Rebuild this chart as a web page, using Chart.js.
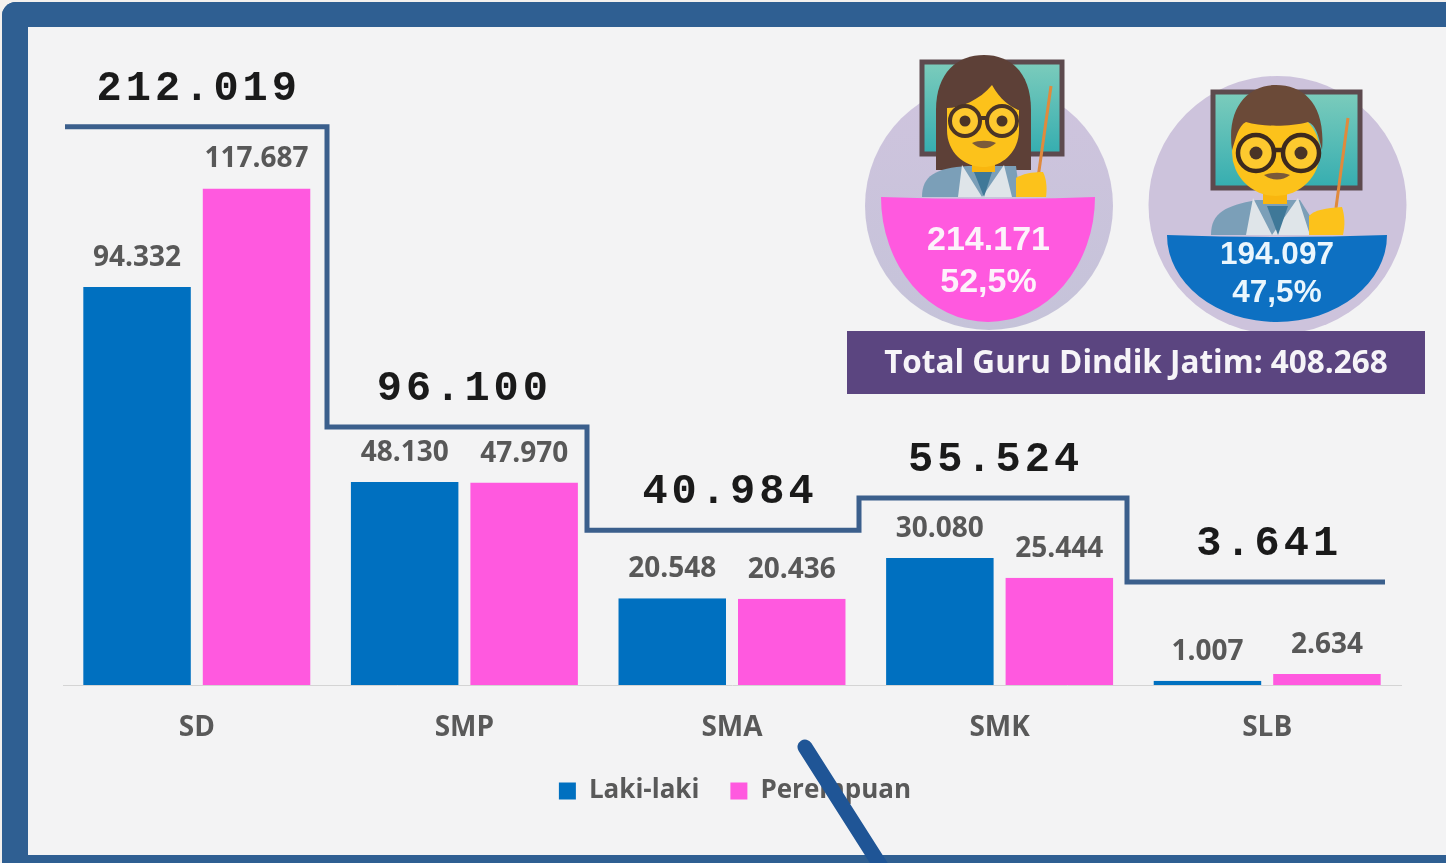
<!DOCTYPE html>
<html><head><meta charset="utf-8">
<script src="https://cdn.jsdelivr.net/npm/chart.js@4"></script>
<style>
html,body{margin:0;padding:0;width:1446px;height:863px;overflow:hidden;background:#f4f1ee}
#frame{position:absolute;left:2px;top:2px;width:1444px;height:861px;box-sizing:border-box;background:#f3f3f4;border:solid #2f5f92;border-width:25px 0 8px 26px;border-radius:14px 0 0 0}
#c{position:absolute;left:0;top:0}
#deco{position:absolute;left:0;top:0}
</style></head><body>
<div id="frame"></div>
<canvas id="c" width="1446" height="863"></canvas>
<svg id="deco" width="1446" height="863" viewBox="0 0 1446 863" font-family="'Liberation Sans',sans-serif" font-weight="700">
<defs>
<linearGradient id="teal" x1="0" y1="0" x2="0" y2="1"><stop offset="0" stop-color="#7cccbc"/><stop offset="1" stop-color="#35adb0"/></linearGradient>
<linearGradient id="disc" x1="0" y1="0" x2="0" y2="1"><stop offset="0" stop-color="#cfc4de"/><stop offset="1" stop-color="#c5c3d9"/></linearGradient>
</defs>
<!-- woman -->
<circle cx="989" cy="206" r="124" fill="url(#disc)"/>
<rect x="922" y="62" width="140" height="92" fill="url(#teal)" stroke="#5d4a4e" stroke-width="5"/>
<line x1="1051" y1="86" x2="1038" y2="178" stroke="#e08a3c" stroke-width="3"/>
<path d="M936 170 L936 110 C936 72 958 55 984 55 C1010 55 1031 72 1031 110 L1031 170 Z" fill="#5d4037"/>
<path d="M922 197 C922 176 935 168 968 166 L1016 166 L1020 197 Z" fill="#7b9fb8"/>
<path d="M962 165 L982 197 L1004 165 L1012 197 L958 197 Z" fill="#dfe5e9"/>
<path d="M974 172 L992 172 L984 197 Z" fill="#3f7898"/>
<rect x="972" y="150" width="23" height="22" fill="#f9b60f"/>
<path d="M947 108 C960 108 980 100 992 85 C1000 100 1012 108 1019 110 L1019 130 C1019 152 1002 167 983 167 C964 167 947 152 947 130 Z" fill="#fcc21b"/>
<circle cx="965" cy="121" r="15" fill="#fdc92f" stroke="#4a3426" stroke-width="4"/>
<circle cx="1002" cy="121" r="15" fill="#fdc92f" stroke="#4a3426" stroke-width="4"/>
<line x1="980" y1="118" x2="987" y2="118" stroke="#4a3426" stroke-width="4"/>
<circle cx="965" cy="121" r="5.5" fill="#4a3426"/><circle cx="1002" cy="121" r="5.5" fill="#4a3426"/>
<path d="M972 143 C980 150 988 150 996 143 C990 140 978 140 972 143 Z" fill="#7a5a3a"/>
<path d="M1016 197 L1016 178 C1022 174 1032 172 1043 172 C1047 180 1047 190 1046 197 Z" fill="#fcc21b"/>
<path d="M881 197 Q988 201 1095 197 A107 125 0 0 1 881 197 Z" fill="#ff59df"/>
<text x="988.5" y="250" font-size="34" text-anchor="middle" fill="#fdf2fb">214.171</text>
<text x="988.5" y="292" font-size="34" text-anchor="middle" fill="#fdf2fb">52,5%</text>
<!-- man -->
<circle cx="1277.5" cy="205" r="129" fill="#cdc3dc"/>
<rect x="1213" y="92" width="147" height="96" fill="url(#teal)" stroke="#5d4a4e" stroke-width="5"/>
<line x1="1348" y1="118" x2="1336" y2="208" stroke="#e08a3c" stroke-width="3"/>
<path d="M1211 235 C1211 212 1226 206 1256 200 L1300 200 L1322 235 Z" fill="#7b9fb8"/>
<path d="M1253 198 L1272 235 L1298 198 L1310 235 L1246 235 Z" fill="#dfe5e9"/>
<path d="M1267 206 L1288 206 L1278 235 Z" fill="#3f7898"/>
<rect x="1263" y="180" width="24" height="24" fill="#f9b60f"/>
<ellipse cx="1276" cy="152" rx="44" ry="44" fill="#fcc21b"/>
<path d="M1232 150 C1226 105 1250 85 1276 85 C1304 85 1326 105 1322 150 C1318 135 1316 125 1308 122 C1290 127 1262 127 1246 122 C1238 126 1236 138 1232 150 Z" fill="#6b4a38"/>
<circle cx="1256" cy="153" r="18" fill="#fdc92f" stroke="#3d2a1e" stroke-width="4.5"/>
<circle cx="1301" cy="153" r="18" fill="#fdc92f" stroke="#3d2a1e" stroke-width="4.5"/>
<line x1="1274" y1="150" x2="1283" y2="150" stroke="#3d2a1e" stroke-width="4.5"/>
<circle cx="1256" cy="153" r="6.5" fill="#4a3426"/><circle cx="1301" cy="153" r="6.5" fill="#4a3426"/>
<path d="M1264 175 C1272 181 1282 181 1290 175 C1282 172 1272 172 1264 175 Z" fill="#7a5a3a"/>
<path d="M1309 235 L1309 216 C1314 210 1326 208 1342 207 C1345 216 1345 226 1343 235 Z" fill="#fcc21b"/>
<path d="M1167 235 Q1277 239 1387 235 A110 87 0 0 1 1167 235 Z" fill="#0d70c2"/>
<text x="1277" y="264" font-size="31.5" text-anchor="middle" fill="#eaf6fd">194.097</text>
<text x="1277" y="302" font-size="31.5" text-anchor="middle" fill="#eaf6fd">47,5%</text>
<!-- banner -->
<rect x="847" y="331" width="578" height="63" fill="#5b4580"/>
<text x="1136" y="373" font-family="'Open Sans',sans-serif" font-size="31.5" text-anchor="middle" fill="#f6f4f8">Total Guru Dindik Jatim: 408.268</text>
</svg>
<script>
const categories = ['SD','SMP','SMA','SMK','SLB'];
const lakiLaki = [94332,48130,20548,30080,1007];
const perempuan = [117687,47970,20436,25444,2634];
const totals = [212019,96100,40984,55524,3641];
const stepLevels = [132300,61150,36700,44300,24400];
const stepEdges = [65,327,587,859,1127,1385];
const totalShift = [2,0,-2,-4,2];
const fmt = v => String(v).replace(/\B(?=(\d{3})+$)/g,'.');

const deco = {
  id:'deco',
  afterLayout(chart){
    chart.legend.left += 3; chart.legend.right += 3;
  },
  afterDatasetsDraw(chart){
    const {ctx,scales:{x,y}} = chart;
    ctx.save();
    // value labels above each bar
    ctx.font = "700 28px 'Open Sans',sans-serif";
    ctx.fillStyle = '#585858';
    ctx.textAlign = 'center'; ctx.textBaseline = 'middle';
    chart.data.datasets.forEach((d,i)=>{
      chart.getDatasetMeta(i).data.forEach((b,j)=>{
        ctx.fillText(fmt(d.data[j]), b.x, b.y-29);
      });
    });
    // stepped total line
    ctx.strokeStyle = '#3b5f8c'; ctx.lineWidth = 5; ctx.lineJoin = 'miter';
    ctx.beginPath();
    stepLevels.forEach((v,i)=>{
      const py = y.getPixelForValue(v);
      if(i===0) ctx.moveTo(stepEdges[0],py); else ctx.lineTo(stepEdges[i],py);
      ctx.lineTo(stepEdges[i+1],py);
    });
    ctx.stroke();
    // totals
    ctx.font = "700 42px 'Liberation Mono',monospace";
    ctx.letterSpacing = '4px';
    ctx.fillStyle = '#1a1a1a';
    totals.forEach((t,i)=>{
      ctx.fillText(fmt(t), x.getPixelForTick(i)+totalShift[i], y.getPixelForValue(stepLevels[i])-37.5);
    });
    ctx.letterSpacing = '0px';
    // callout stroke
    ctx.strokeStyle = '#1f5596'; ctx.lineWidth = 15; ctx.lineCap = 'round';
    ctx.beginPath(); ctx.moveTo(805,747); ctx.lineTo(882,868); ctx.stroke();
    ctx.restore();
  }
};

new Chart(document.getElementById('c'),{
  type:'bar',
  data:{labels:categories,datasets:[
    {label:'Laki-laki',data:lakiLaki,backgroundColor:'#0070c0',borderColor:'rgba(0,0,0,0)',borderWidth:{left:6,right:6,top:0,bottom:0},borderSkipped:false},
    {label:'Perempuan',data:perempuan,backgroundColor:'#ff59df',borderColor:'rgba(0,0,0,0)',borderWidth:{left:6,right:6,top:0,bottom:0},borderSkipped:false}
  ]},
  plugins:[deco],
  options:{
    responsive:false,animation:false,
    layout:{padding:{left:63,right:45,top:20,bottom:49}},
    datasets:{bar:{barPercentage:1,categoryPercentage:0.893}},
    plugins:{
      tooltip:{enabled:false},
      legend:{position:'bottom',labels:{boxWidth:17,boxHeight:17,padding:31,color:'#595959',font:{family:"'Open Sans',sans-serif",size:26,weight:'700'}}}
    },
    scales:{
      x:{afterFit(s){s.height=62;},grid:{drawOnChartArea:false,drawTicks:false},border:{color:'#d4d4d4'},
         ticks:{padding:26,color:'#595959',font:{family:"'Open Sans',sans-serif",size:28,weight:'700'}}},
      y:{display:false,min:0,max:157600}
    }
  }
});
</script>
</body></html>
